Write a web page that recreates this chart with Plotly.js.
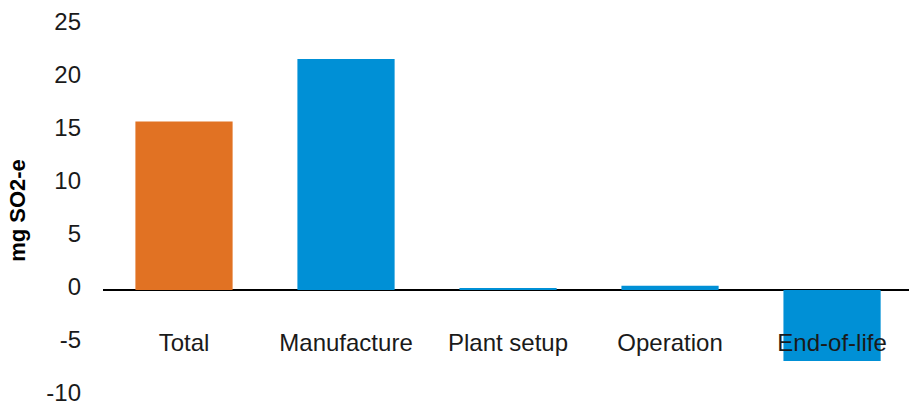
<!DOCTYPE html>
<html>
<head>
<meta charset="utf-8">
<script src="https://cdn.plot.ly/plotly-3.0.1.min.js"></script>
<style>html,body{margin:0;padding:0;background:#fff;}#chart{width:909px;height:405px;}</style>
</head>
<body>
<div id="chart"></div>
<script>
const categories = ["Total", "Manufacture", "Plant setup", "Operation", "End-of-life"];
const values = [15.9, 21.8, 0.2, 0.4, -6.7];
const yTicks = [-10, -5, 0, 5, 10, 15, 20, 25];
const yAxisTitle = "mg SO2-e";

const barColors = ["#E17223", "#0090D6", "#0090D6", "#0090D6", "#0090D6"];
const font = "Liberation Sans, Arial, sans-serif";

const trace = {
  type: "bar",
  x: categories,
  y: values,
  marker: {color: barColors, line: {width: 0}},
  hoverinfo: "x+y"
};

const layout = {
  width: 909, height: 405,
  margin: {l: 103, r: 0, t: 25, b: 9, pad: 0},
  paper_bgcolor: "#fff", plot_bgcolor: "#fff",
  showlegend: false,
  bargap: 0.4,
  font: {family: font, color: "#1a1a1a"},
  xaxis: {
    type: "category",
    range: [-0.5, 4.475],
    showgrid: false, showline: false, zeroline: false,
    ticks: "",
    anchor: "free", position: 10/35,
    ticklabelstandoff: 36,
    tickfont: {size: 24, color: "#1a1a1a", family: font}
  },
  yaxis: {
    range: [-10, 25],
    tickvals: yTicks,
    ticktext: yTicks.map(String),
    showgrid: false, showline: false,
    zeroline: true, zerolinecolor: "#000", zerolinewidth: 1.5,
    ticks: "",
    ticklabelstandoff: 21,
    ticklabelshift: -3,
    ticklabeloverflow: "allow",
    tickfont: {size: 24, color: "#1a1a1a", family: font},
    title: {text: yAxisTitle, font: {size: 22, color: "#000", family: font, weight: "bold"}, standoff: 14}
  }
};

Plotly.newPlot("chart", [trace], layout, {displayModeBar: false, staticPlot: true});
</script>
</body>
</html>
